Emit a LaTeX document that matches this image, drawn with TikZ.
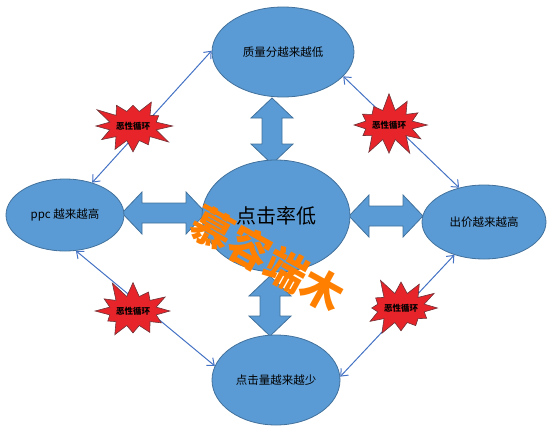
\documentclass[tikz,border=0pt]{standalone}
\usepackage{fontspec}
\setmainfont{Noto Sans CJK SC}
\usetikzlibrary{arrows.meta, shapes.geometric, shapes.symbols}

\definecolor{ellfill}{RGB}{91,155,213}
\definecolor{elldraw}{RGB}{65,113,156}
\definecolor{linkblue}{RGB}{68,114,196}
\definecolor{burstred}{RGB}{230,36,42}
\definecolor{burstedge}{RGB}{110,50,55}
\definecolor{markorange}{RGB}{255,128,0}

\tikzset{
  bubble/.style={ellipse, fill=ellfill, draw=elldraw, line width=0.8pt, inner sep=0pt,
    font=\fontsize{11.5}{13}\selectfont},
  link/.style={draw=linkblue, line width=1pt,
    {Straight Barb[length=6pt,width=10pt]}-{Straight Barb[length=6pt,width=10pt]}},
  burst/.style={starburst, starburst points=12, starburst point height=18pt,
    fill=burstred, draw=burstedge, line width=0.6pt, minimum width=72pt,
    minimum height=66pt, inner sep=0pt, font=\fontsize{8.5}{10}\selectfont\bfseries},
  barrow/.style={fill=ellfill, draw=elldraw, line width=0.8pt},
  pics/dblarr/.style={code={
    \path[barrow] ({-#1/2},0) -- ({-#1/2+20},21) -- ({-#1/2+20},10) -- ({#1/2-20},10)
      -- ({#1/2-20},21) -- ({#1/2},0) -- ({#1/2-20},-21) -- ({#1/2-20},-10)
      -- ({-#1/2+20},-10) -- ({-#1/2+20},-21) -- cycle;
  }}
}

\begin{document}
\begin{tikzpicture}[x=1pt, y=-1pt]
  \useasboundingbox (0,0) rectangle (552,426);

  % block arrows round the centre
  \pic[rotate=90] at (272,131) {dblarr=66};
  \pic[rotate=90] at (270,306) {dblarr=60};
  \pic at (164,213) {dblarr=84};
  \pic at (386,216) {dblarr=74};

  \node[bubble, minimum width=142pt, minimum height=90pt] (zl) at (283,52) {质量分越来越低};
  \node[bubble, minimum width=148pt, minimum height=112pt, font=\fontsize{20}{24}\selectfont] (djl) at (276,216) {点击率低};
  \node[bubble, minimum width=118pt, minimum height=72pt] (ppc) at (65,215) {ppc 越来越高};
  \node[bubble, minimum width=124pt, minimum height=74pt] (cj) at (484,222) {出价越来越高};
  \node[bubble, minimum width=128pt, minimum height=90pt] (djx) at (276,380) {点击量越来越少};

  \draw[link] (ppc.50) -- (zl.179);
  \draw[link] (zl.-22) -- (cj.126);
  \draw[link] (ppc.-73) -- (djx.167);
  \draw[link] (cj.-132) -- (djx.3);

  \node[burst, random starburst=3] (b1) at (133,126) {恶性循环};
  \node[burst, random starburst=7] (b2) at (389,125) {恶性循环};
  \node[burst, random starburst=11] (b3) at (133,311) {恶性循环};
  \node[burst, random starburst=5] (b4) at (401,308) {恶性循环};

  \node[rotate=-29, text=markorange, font=\fontsize{42}{44}\selectfont\bfseries] (mark) at (268,259) {慕容端木};
\end{tikzpicture}
\end{document}
